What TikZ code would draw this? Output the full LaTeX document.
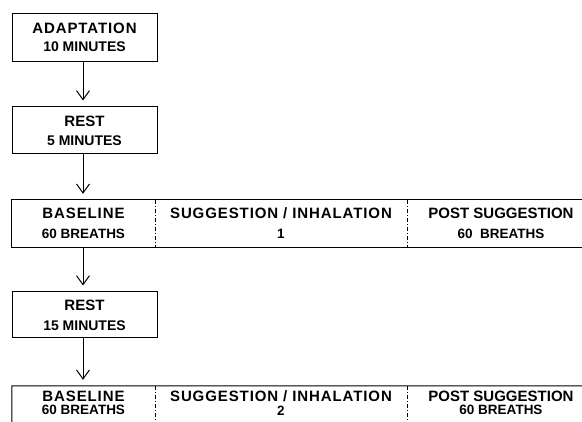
\documentclass[tikz,border=0pt]{standalone}
\usepackage{fontspec}
\setmainfont{Liberation Sans}
\usetikzlibrary{arrows.meta}
\tikzset{
  stepbox/.style={draw, line width=1pt, minimum width=145pt, minimum height=48pt, inner sep=0pt, align=center, font=\bfseries\fontsize{15}{19}\selectfont},
  cell/.style={minimum height=47pt, inner sep=0pt, align=center, font=\bfseries\fontsize{15}{20}\selectfont},
  lowcell/.style={cell, minimum height=34pt, font=\bfseries\fontsize{15}{13.5}\selectfont},
  flow/.style={line width=1pt, -{Straight Barb[length=9pt,width=13pt,line width=1pt]}, shorten >=6pt},
  divider/.style={line width=1pt, dash pattern=on 4pt off 2pt on 1pt off 2pt},
  rowline/.style={line width=1pt}
}
\newcommand{\bigtxt}{\fontsize{15}{19}\selectfont}
\newcommand{\smatxt}{\fontsize{14}{19}\selectfont}
\newcommand{\celltxt}{\fontsize{13.5}{19}\selectfont}
\newcommand{\wide}{\addfontfeature{LetterSpace=6}}
\newcommand{\sgin}{{\wide SUGGESTION\hspace{5pt}/\hspace{5pt}INHALATION}}
\begin{document}
\begin{tikzpicture}[x=1pt,y=1pt]
\useasboundingbox (0,0) rectangle (582,-422);
\clip (0,0) rectangle (582,-422);
% boxes
\node[stepbox, font=\bfseries\fontsize{15}{18}\selectfont] (adapt) at (84.5,-37.5) {{\wide ADAPTATION}\\\smatxt 10 MINUTES};
\node[stepbox, minimum height=47pt] (rest1) at (84.5,-130.5) {\bigtxt REST\\\smatxt 5 MINUTES};
% row 1
\node[cell, minimum width=143pt] (b1) at (83.5,-223.5) {{\wide BASELINE}\\\celltxt 60 BREATHS};
\node[cell, minimum width=252pt] (s1) at (281,-223.5) {\sgin\\\celltxt 1};
\node[cell, minimum width=188pt] (p1) at (501,-223.5) {POST SUGGESTION\\\celltxt 60\ \ BREATHS};
\draw[rowline] (p1.north east) -- (b1.north west) -- (b1.south west) -- (p1.south east);
\draw[divider] (b1.north east) -- (b1.south east);
\draw[divider] (s1.north east) -- (s1.south east);
% rest 2
\node[stepbox, minimum height=46pt, font=\bfseries\fontsize{15}{20}\selectfont] (rest2) at (84.5,-315) {\bigtxt REST\\\smatxt 15 MINUTES};
% row 2
\node[lowcell, minimum width=143pt] (b2) at (83.5,-403) {{\wide BASELINE}\\\celltxt 60 BREATHS};
\node[lowcell, minimum width=252pt] (s2) at (281,-403) {\sgin\\\celltxt 2};
\node[lowcell, minimum width=188pt] (p2) at (501,-403) {POST SUGGESTION\\\celltxt 60 BREATHS};
\coordinate (r2sw) at (12,-430);
\coordinate (r2se) at (600,-430);
\draw[rowline] (p2.north east) -- (b2.north west) -- (r2sw);
\draw[rowline] (r2sw) -- (r2se);
\draw[divider] (b2.north east) -- ([yshift=-10pt]b2.south east);
\draw[divider] (s2.north east) -- ([yshift=-10pt]s2.south east);
% arrows
\draw[flow] ([xshift=-1.5pt]adapt.south) -- ([xshift=-1.5pt]rest1.north);
\draw[flow] ([xshift=-1.5pt]rest1.south) -- ([xshift=-0.5pt]b1.north);
\draw[flow] ([xshift=-0.5pt]b1.south) -- ([xshift=-1.5pt]rest2.north);
\draw[flow] ([xshift=-1.5pt]rest2.south) -- ([xshift=-0.5pt]b2.north);
\end{tikzpicture}
\end{document}
